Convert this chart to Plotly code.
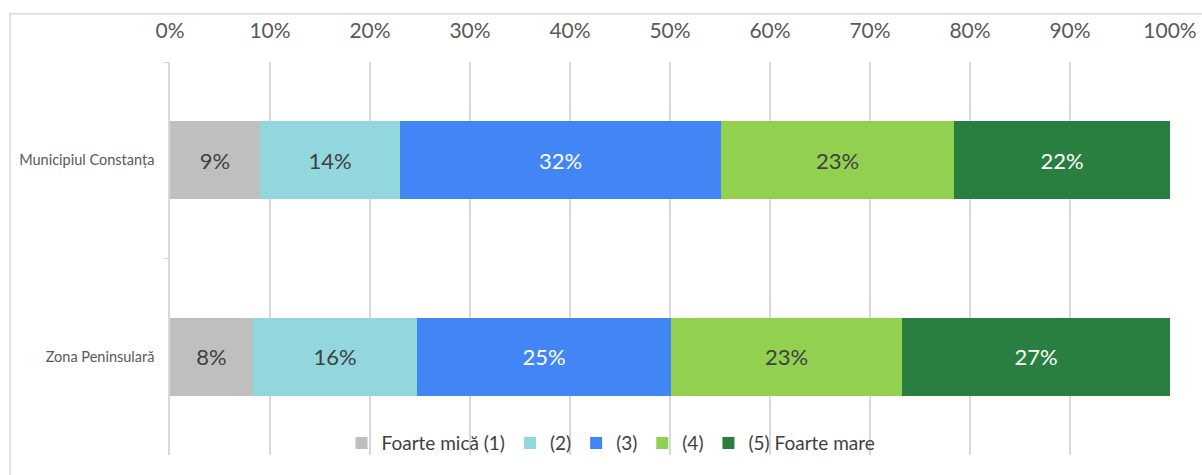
import plotly.graph_objects as go

# Date
categorii = ["Municipiul Constanța", "Zona Peninsulară"]
serii = ["Foarte mică (1)", "(2)", "(3)", "(4)", "(5) Foarte mare"]
valori = {
    "Foarte mică (1)": [9.0, 8.3],
    "(2)": [14.0, 16.4],
    "(3)": [32.1, 25.4],
    "(4)": [23.3, 23.1],
    "(5) Foarte mare": [21.6, 26.8],
}
culori = {
    "Foarte mică (1)": "#BFBFBF",
    "(2)": "#92D7DE",
    "(3)": "#4286F5",
    "(4)": "#92D050",
    "(5) Foarte mare": "#287F3F",
}
culori_text = {
    "Foarte mică (1)": "#404040",
    "(2)": "#404040",
    "(3)": "#FFFFFF",
    "(4)": "#404040",
    "(5) Foarte mare": "#FFFFFF",
}

FONT = "Lato"

fig = go.Figure()
for s in serii:
    fig.add_trace(go.Bar(
        y=categorii,
        x=valori[s],
        name=s,
        orientation="h",
        marker=dict(color=culori[s], line=dict(width=0)),
        texttemplate="%{x:.0f}%",
        textposition="inside",
        insidetextanchor="middle",
        textangle=0,
        textfont=dict(size=22, color=culori_text[s], family=FONT),
        width=0.395,
    ))

fig.update_layout(
    barmode="stack",
    width=1202,
    height=475,
    margin=dict(l=170, r=32, t=62, b=20),
    plot_bgcolor="white",
    paper_bgcolor="white",
    font=dict(family=FONT, color="#595959"),
    showlegend=True,
    legend=dict(
        orientation="h",
        x=0.441, xanchor="center",
        y=0.03, yanchor="middle",
        bgcolor="rgba(0,0,0,0)",
        font=dict(size=19, color="#404040", family=FONT),
        traceorder="normal",
        itemwidth=30,
    ),
    shapes=[dict(
        type="rect", xref="paper", yref="paper",
        x0=-0.16, x1=1.06, y0=-0.1, y1=1.123,
        line=dict(color="#D9D9D9", width=1.5),
        fillcolor="rgba(0,0,0,0)", layer="below",
    )],
)

fig.update_xaxes(
    side="top",
    range=[0, 100],
    dtick=10,
    ticksuffix="%",
    showgrid=True,
    gridcolor="#D9D9D9",
    gridwidth=1.5,
    zeroline=False,
    showline=False,
    ticks="outside",
    ticklen=15,
    tickcolor="rgba(0,0,0,0)",
    tickfont=dict(size=21, color="#595959", family=FONT),
    automargin=False,
)

fig.update_yaxes(
    categoryorder="array",
    categoryarray=categorii,
    autorange="reversed",
    showline=True,
    linecolor="#D9D9D9",
    linewidth=1.5,
    ticks="outside",
    tickson="boundaries",
    ticklen=5,
    tickcolor="#D9D9D9",
    tickfont=dict(size=14.5, color="#595959", family=FONT),
    ticklabelstandoff=11,
    automargin=False,
)

fig.write_html(
    "out.html",
    config={"displayModeBar": False},
    post_script="document.body.style.margin='0';",
)
